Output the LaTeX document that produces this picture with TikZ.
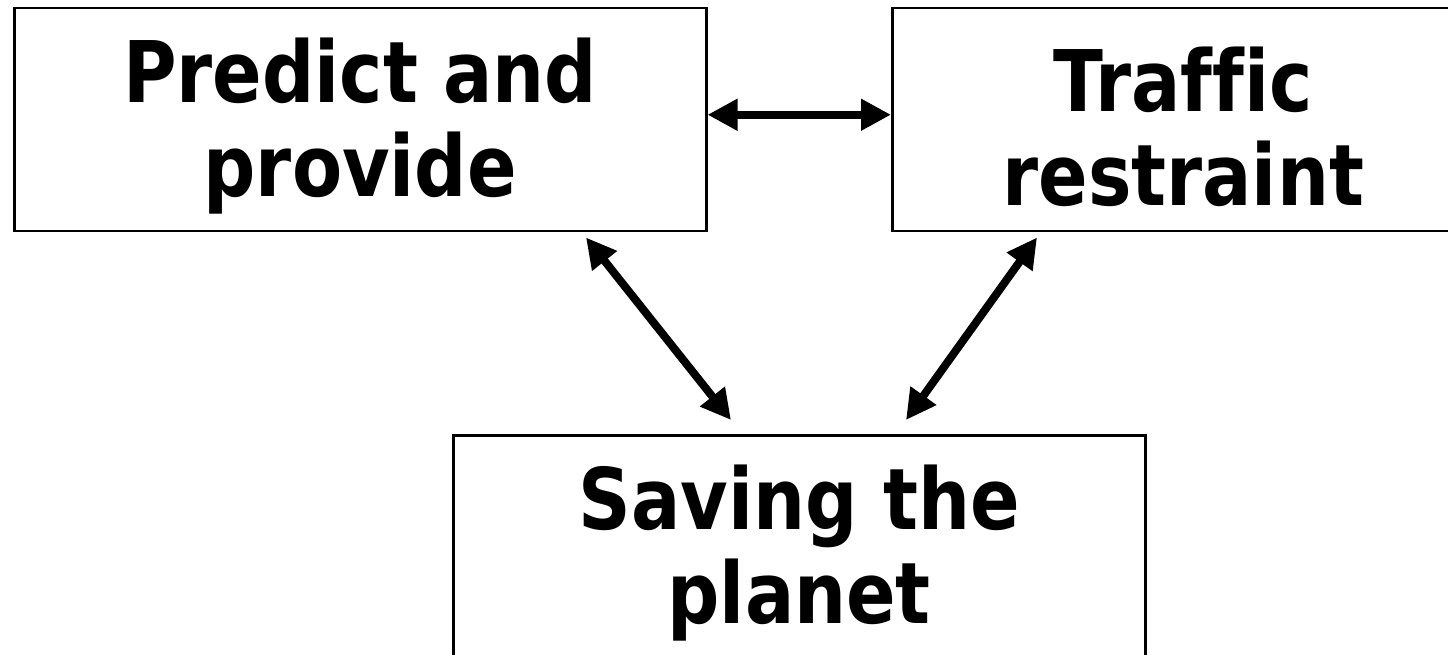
\documentclass[tikz,border=0pt]{standalone}
\usepackage{fontspec}
\setmainfont{DejaVu Sans}[FakeStretch=0.86,Ligatures=NoCommon]
\usetikzlibrary{arrows.meta,calc}
\newcommand\boxstrut{\rule{0pt}{78pt}}
\tikzset{
  box/.style={draw=black, line width=2.5pt, fill=white, minimum width=692pt, minimum height=223pt,
    inner sep=0pt, align=center, font=\bfseries\fontsize{85}{94}\selectfont},
  arr/.style={line width=8pt, {Triangle[length=30pt,width=30pt]}-{Triangle[length=30pt,width=30pt]}}
}
\begin{document}
\begin{tikzpicture}[x=1pt,y=1pt]
\useasboundingbox (0,0) rectangle (1448,654);
\clip (0,0) rectangle (1448,654);
\node[box, anchor=north west] (b1) at (13,647) {\boxstrut Predict and\\provide};
\node[box, anchor=north west, minimum width=582pt] (b2) at (891,647) {\boxstrut Traffic\\restraint};
\node[box, anchor=north west] (b3) at (452,220) {\boxstrut Saving the\\planet};
\draw[arr] ([yshift=5pt]b1.east) -- ([yshift=5pt]b2.west);
\coordinate (l1) at ($(b1.south west)+(573,-5)$);
\coordinate (l2) at ($(b3.north west)+(279,14)$);
\coordinate (r1) at ($(b2.south west)+(146,-5)$);
\coordinate (r2) at ($(b3.north west)+(454,14)$);
\draw[arr] (l1) -- (l2);
\draw[arr] (r1) -- (r2);
\end{tikzpicture}
\end{document}
